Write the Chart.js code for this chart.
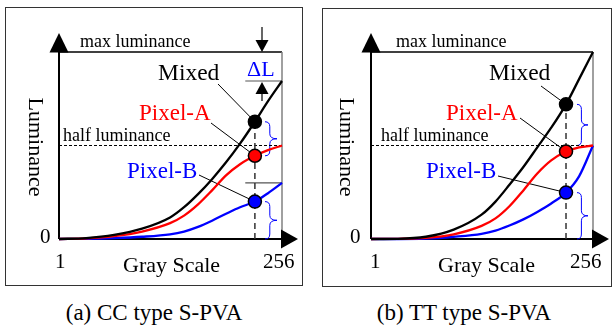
<!DOCTYPE html>
<html><head><meta charset="utf-8">
<script src="https://cdn.jsdelivr.net/npm/chart.js@4"></script>
<style>
html,body{margin:0;padding:0;background:#fff;width:616px;height:330px;overflow:hidden}
canvas{position:absolute;top:0}
#cvA{left:0}
#cvB{left:310px}
.cap{position:absolute;top:300px;width:260px;text-align:center;font:23px "Liberation Serif",serif;line-height:26px;color:#000;white-space:nowrap}
</style></head><body>
<canvas id="cvA" width="310" height="290"></canvas>
<canvas id="cvB" width="306" height="290"></canvas>
<div class="cap" style="left:24px">(a) CC type S-PVA</div>
<div class="cap" style="left:334px">(b) TT type S-PVA</div>
<script>
// Gray levels where the curves are sampled
const grayLevels = [1, 32, 64, 96, 128, 144, 160, 176, 192, 208, 225, 240, 256];

// (a) CC type: normalised luminance per gray level
const ccMixed  = [0, 0.005, 0.022, 0.055, 0.115, 0.17, 0.24, 0.32, 0.41, 0.51, 0.627, 0.737, 0.845];
const ccPixelA = [0, 0.003, 0.015, 0.04, 0.085, 0.125, 0.185, 0.26, 0.34, 0.40, 0.445, 0.475, 0.5];
const ccPixelB = [0, 0.001, 0.005, 0.012, 0.025, 0.04, 0.065, 0.098, 0.135, 0.17, 0.2, 0.245, 0.3];

// (b) TT type
const ttMixed  = [0, 0.001, 0.012, 0.05, 0.13, 0.2, 0.29, 0.385, 0.49, 0.595, 0.72, 0.855, 1.0];
const ttPixelA = [0, 0.001, 0.006, 0.025, 0.07, 0.11, 0.175, 0.26, 0.35, 0.42, 0.468, 0.49, 0.5];
const ttPixelB = [0, 0, 0.002, 0.012, 0.028, 0.045, 0.072, 0.105, 0.145, 0.19, 0.248, 0.335, 0.5];

const seriesNames = ['Mixed', 'Pixel-A', 'Pixel-B'];
const markerGray = 225;
const halfLuminance = 0.5;
const maxLuminance = 1;
const grayMin = 1, grayMax = 256;
const tickLabels = ['0', '1', '256'];
const axisTitles = ['Luminance', 'Gray Scale'];
const refLabels = ['max luminance', 'half luminance'];
const deltaLabel = '\u0394L';

const BLACK = '#000', RED = '#ff0000', BLUE = '#0000ff';
const SERIF = '"Liberation Serif", "Times New Roman", serif';

function pts(arr) { return grayLevels.map((g, i) => ({ x: g, y: arr[i] })); }
function at(arr) { return arr[grayLevels.indexOf(markerGray)]; }

function text(ctx, s, x, y, size, color) {
  ctx.save();
  ctx.font = size + 'px ' + SERIF;
  ctx.fillStyle = color;
  ctx.textAlign = 'left';
  ctx.textBaseline = 'alphabetic';
  ctx.fillText(s, x, y);
  ctx.restore();
}
function tri(ctx, a, b, c) {
  ctx.beginPath(); ctx.moveTo(a[0], a[1]); ctx.lineTo(b[0], b[1]); ctx.lineTo(c[0], c[1]); ctx.closePath();
  ctx.fillStyle = BLACK; ctx.fill();
}
function seg(ctx, x1, y1, x2, y2, w, color) {
  ctx.beginPath(); ctx.moveTo(x1, y1); ctx.lineTo(x2, y2);
  ctx.lineWidth = w; ctx.strokeStyle = color; ctx.stroke();
}
// right-pointing curly brace between y1 and y2
function brace(ctx, x, y1, y2, w) {
  const ym = (y1 + y2) / 2, xm = x + w * 0.4, xt = x + w;
  const r = Math.min(5, (y2 - y1) / 5);
  ctx.beginPath();
  ctx.moveTo(x, y1);
  ctx.quadraticCurveTo(xm, y1, xm, y1 + r);
  ctx.lineTo(xm, ym - r);
  ctx.quadraticCurveTo(xm, ym, xt, ym);
  ctx.quadraticCurveTo(xm, ym, xm, ym + r);
  ctx.lineTo(xm, y2 - r);
  ctx.quadraticCurveTo(xm, y2, x, y2);
  ctx.lineWidth = 1; ctx.strokeStyle = BLUE; ctx.stroke();
}

function makePanel(id, offset, mixed, pixA, pixB, L) {
  const ox = v => v - offset;
  const mk = [at(mixed), at(pixA), at(pixB)];
  const last = mixed.length - 1;
  const datasets = [
    // marker dots
    { data: [{ x: markerGray, y: mk[0] }], backgroundColor: BLACK, order: 0 },
    { data: [{ x: markerGray, y: mk[1] }], backgroundColor: RED, order: 0 },
    { data: [{ x: markerGray, y: mk[2] }], backgroundColor: BLUE, order: 0 },
  ].map(d => Object.assign(d, { showLine: false, pointRadius: 6.5, pointBorderWidth: 1.5,
      pointBorderColor: BLACK, pointBackgroundColor: d.backgroundColor }));
  datasets.push(
    { data: pts(mixed), borderColor: BLACK, order: 2 },
    { data: pts(pixA), borderColor: RED, order: 2 },
    { data: pts(pixB), borderColor: BLUE, order: 2 }
  );
  datasets.slice(3).forEach(d => Object.assign(d, { borderWidth: 2.3, pointRadius: 0, cubicInterpolationMode: 'monotone', clip: false }));
  // dashed guides
  datasets.push(
    { data: [{ x: markerGray, y: 0 }, { x: markerGray, y: mk[0] }], borderColor: '#333', borderWidth: 1.5, borderDash: [6, 4], pointRadius: 0, order: 3 },
    { data: [{ x: grayMin, y: halfLuminance }, { x: grayMax, y: halfLuminance }], borderColor: BLACK, borderWidth: 1, borderDash: [3, 2], pointRadius: 0, order: 3, clip: false }
  );
  if (L.deltaL) {
    datasets.push(
      { data: [{ x: L.guideFrom, y: mixed[last] }, { x: grayMax, y: mixed[last] }], borderColor: '#555', borderWidth: 1.2, pointRadius: 0, order: 3, clip: false },
      { data: [{ x: L.guideFrom, y: pixB[last] }, { x: grayMax, y: pixB[last] }], borderColor: '#555', borderWidth: 1.2, pointRadius: 0, order: 3, clip: false }
    );
  }

  const decor = {
    id: 'decor',
    beforeDatasetsDraw(chart) {
      const ctx = chart.ctx, a = chart.chartArea;
      const xs = chart.scales.x, ys = chart.scales.y;
      ctx.save();
      // outer frame
      ctx.lineWidth = 1; ctx.strokeStyle = '#333';
      ctx.strokeRect(ox(L.frame[0]) + 0.5, L.frame[1] + 0.5, L.frame[2] - L.frame[0], L.frame[3] - L.frame[1]);
      // max luminance line and right border
      const yMax = ys.getPixelForValue(maxLuminance);
      seg(ctx, a.left, yMax, a.right, yMax, 1.5, BLACK);
      seg(ctx, a.right, yMax, a.right, a.bottom, 1.5, '#808080');
      // axes with arrow heads
      seg(ctx, a.left, a.bottom, a.left, yMax - 10, 2, BLACK);
      tri(ctx, [a.left, yMax - 19], [a.left - 9.5, yMax + 0.5], [a.left + 9.5, yMax + 0.5]);
      seg(ctx, a.left, a.bottom, a.right, a.bottom, 2, BLACK);
      tri(ctx, [a.right - 1, a.bottom - 9.5], [a.right - 1, a.bottom + 9.5], [a.right + 16, a.bottom]);
      // labels
      text(ctx, refLabels[0], ox(L.max[0]), L.max[1], 18, BLACK);
      text(ctx, refLabels[1], ox(L.half[0]), L.half[1], 18, BLACK);
      text(ctx, seriesNames[0], ox(L.mixed[0]), L.mixed[1], 23.5, BLACK);
      text(ctx, seriesNames[1], ox(L.pa[0]), L.pa[1], 23, RED);
      text(ctx, seriesNames[2], ox(L.pb[0]), L.pb[1], 23, BLUE);
      text(ctx, tickLabels[0], ox(L.zero[0]), L.zero[1], 21, BLACK);
      text(ctx, tickLabels[1], ox(L.one[0]), L.one[1], 21, BLACK);
      text(ctx, tickLabels[2], ox(L.end[0]), L.end[1], 21, BLACK);
      text(ctx, axisTitles[1], ox(L.xt[0]), L.xt[1], 22, BLACK);
      ctx.save();
      ctx.translate(ox(L.yt[0]), L.yt[1]);
      ctx.rotate(Math.PI / 2);
      ctx.font = '22px ' + SERIF; ctx.fillStyle = BLACK;
      ctx.textAlign = 'center'; ctx.textBaseline = 'middle';
      ctx.fillText(axisTitles[0], 0, 0);
      ctx.restore();
      // leader lines from labels to markers
      const mx = xs.getPixelForValue(markerGray);
      [L.mLead, L.aLead, L.bLead].forEach((p, i) => {
        seg(ctx, ox(p[0]), p[1], mx, ys.getPixelForValue(mk[i]), 1, BLACK);
      });
      // braces
      const topEnd = L.braceToA ? mk[1] : halfLuminance;
      brace(ctx, ox(L.braceX), ys.getPixelForValue(mk[0]), ys.getPixelForValue(topEnd), L.braceW);
      brace(ctx, ox(L.braceX), ys.getPixelForValue(mk[2]), ys.getPixelForValue(0), L.braceW);
      // delta-L indicator
      if (L.deltaL) {
        const dx = ox(L.deltaX);
        const yEnd = ys.getPixelForValue(mixed[last]);
        seg(ctx, dx, yMax - 25, dx, yMax - 10, 1.2, BLACK);
        tri(ctx, [dx - 6.5, yMax - 12], [dx + 6.5, yMax - 12], [dx, yMax]);
        tri(ctx, [dx - 6.5, yEnd + 13], [dx + 6.5, yEnd + 13], [dx, yEnd + 1]);
        seg(ctx, dx, yEnd + 12, dx, yEnd + 20, 1.2, BLACK);
        text(ctx, deltaLabel, ox(L.dl[0]), L.dl[1], 22, BLUE);
      }
      ctx.restore();
    }
  };

  return new Chart(document.getElementById(id), {
    type: 'line',
    data: { datasets },
    options: {
      responsive: false, animation: false, devicePixelRatio: 1, events: [],
      layout: { padding: L.pad },
      plugins: { legend: { display: false }, tooltip: { enabled: false } },
      scales: {
        x: { type: 'linear', min: grayMin, max: grayMax, display: false },
        y: { min: 0, max: maxLuminance, display: false }
      }
    },
    plugins: [decor]
  });
}

makePanel('cvA', 0, ccMixed, ccPixelA, ccPixelB, {
  pad: { left: 59, right: 28, top: 52, bottom: 51 },
  frame: [5, 7, 302, 285],
  max: [80, 47], half: [63, 141], mixed: [158, 80], pa: [139, 120], pb: [127, 178],
  zero: [40, 243], one: [55, 268], end: [263, 268], xt: [123, 272], yt: [35, 147],
  mLead: [218, 84], aLead: [211, 123], bLead: [199, 175],
  braceX: 265, braceW: 12, braceToA: true,
  deltaL: true, deltaX: 262, guideFrom: 214, dl: [247, 76]
});

makePanel('cvB', 310, ttMixed, ttPixelA, ttPixelB, {
  pad: { left: 61, right: 23, top: 52, bottom: 51 },
  frame: [322, 8, 611, 286],
  max: [396, 47], half: [381, 141], mixed: [489, 80], pa: [446, 120], pb: [426, 178],
  zero: [350, 243], one: [370, 268], end: [570, 268], xt: [438, 272], yt: [346, 147],
  mLead: [541, 86], aLead: [520, 118], bLead: [498, 176],
  braceX: 577, braceW: 11, braceToA: false,
  deltaL: false
});
</script>
</body></html>
